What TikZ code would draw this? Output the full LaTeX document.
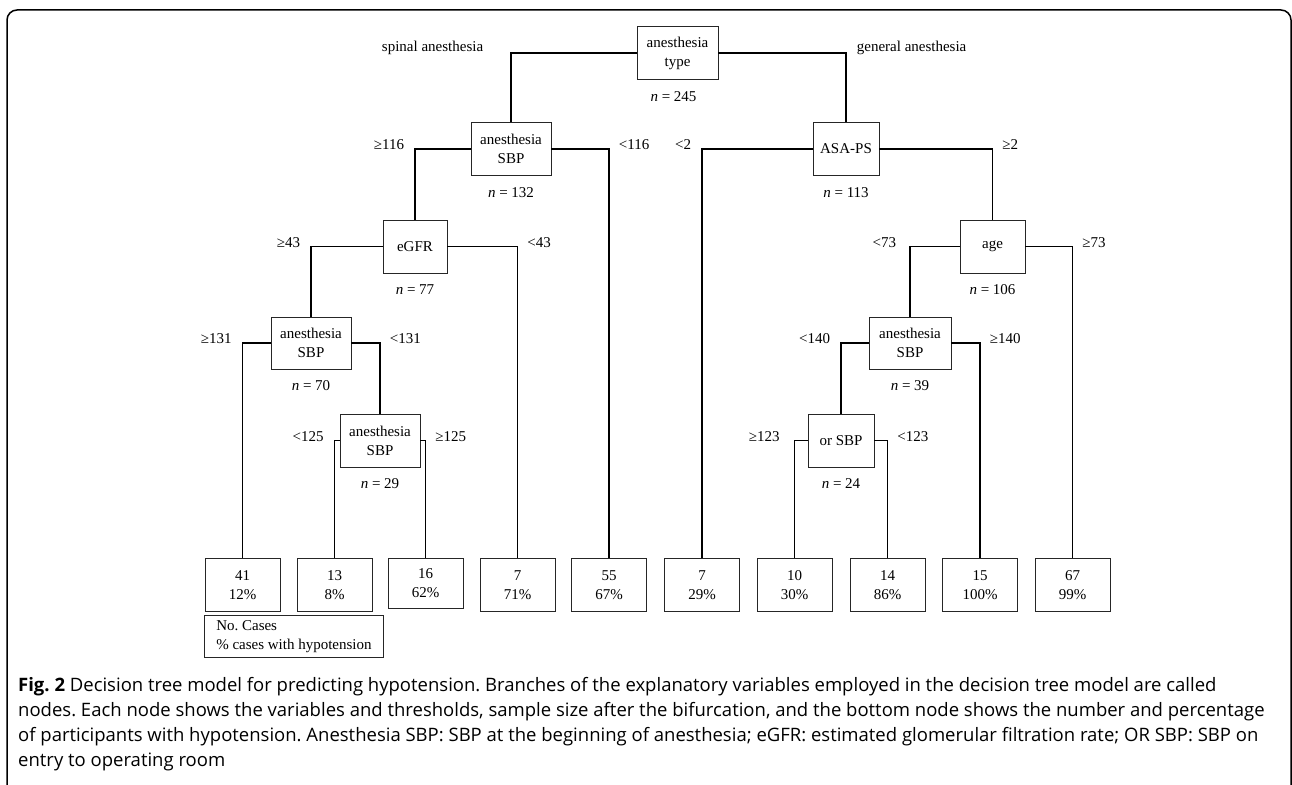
\documentclass[tikz,border=0pt]{standalone}
\usepackage{fontspec}
\setmainfont{Liberation Serif}
\newfontfamily\capfont{Open Sans}
\usetikzlibrary{positioning}
\frenchspacing
\tikzset{
  split/.style={draw=black!85, line width=0.9pt, fill=white, minimum height=53pt, inner sep=0pt, align=center},
  leaf/.style={split, anchor=north, minimum width=75pt},
  ncount/.style={below=11pt of #1, inner sep=0pt},
  lblL/.style={pos=.5, anchor=east, inner sep=0pt, xshift=-10pt, yshift=4pt},
  lblR/.style={pos=.5, anchor=west, inner sep=0pt, xshift=9pt, yshift=4pt},
  branch/.style={line width=1.7pt}
}

\begin{document}
\begin{tikzpicture}[x=1pt, y=-1pt, font=\fontsize{15}{19}\selectfont]
  \useasboundingbox (0,0) rectangle (1292,784);
  \draw[line width=1.5pt, rounded corners=10pt] (7,800) -- (7,10) -- (1291,10) -- (1291,800);

  % split nodes
  \node[split, minimum width=81pt] (root) at (677.5,53) {anesthesia\\type};
  \node[split, minimum width=80pt] (sbp1) at (511,149) {anesthesia\\SBP};
  \node[split, minimum width=66pt] (asa) at (846,149) {ASA-PS};
  \node[split, minimum width=64pt] (egfr) at (415,246.5) {eGFR};
  \node[split, minimum width=65pt] (age) at (992.5,246.5) {age};
  \node[split, minimum width=80pt, minimum height=52pt] (sbp2) at (311,343) {anesthesia\\SBP};
  \node[split, minimum width=82pt, minimum height=52pt] (sbp3) at (910,343) {anesthesia\\SBP};
  \node[split, minimum width=80pt] (sbp4) at (380,440.5) {anesthesia\\SBP};
  \node[split, minimum width=66pt] (orsbp) at (841,440.5) {or SBP};

  \node[ncount=root, xshift=-4pt] (nroot) {\textit{n}~=~245};
  \node[ncount=sbp1] (nsbp1) {\textit{n}~=~132};
  \node[ncount=asa] (nasa) {\textit{n}~=~113};
  \node[ncount=egfr] (negfr) {\textit{n}~=~77};
  \node[ncount=age] (nage) {\textit{n}~=~106};
  \node[ncount=sbp2] (nsbp2) {\textit{n}~=~70};
  \node[ncount=sbp3] (nsbp3) {\textit{n}~=~39};
  \node[ncount=sbp4] (nsbp4) {\textit{n}~=~29};
  \node[ncount=orsbp] (norsbp) {\textit{n}~=~24};

  % leaves
  \node[leaf] (l1) at (242.5,558) {41\\12\%};
  \node[leaf] (l2) at (334.5,558) {13\\8\%};
  \node[leaf, minimum height=50pt] (l3) at (425.5,558) {16\\62\%};
  \node[leaf] (l4) at (517.5,558) {7\\71\%};
  \node[leaf] (l5) at (609,558) {55\\67\%};
  \node[leaf] (l6) at (702,558) {7\\29\%};
  \node[leaf] (l7) at (794.5,558) {10\\30\%};
  \node[leaf] (l8) at (887.5,558) {14\\86\%};
  \node[leaf] (l9) at (980,558) {15\\100\%};
  \node[leaf] (l10) at (1072.5,558) {67\\99\%};
  \node[draw=black!85, line width=0.9pt, anchor=north west, minimum width=179pt, minimum height=42pt, align=left, inner sep=0pt] (key) at (204,615) {No. Cases\\\% cases with hypotension};

  % branches
  \draw[branch] (root.west) -| node[pos=.5, anchor=east, inner sep=0pt, xshift=-27pt, yshift=5pt] {spinal anesthesia} (sbp1.north);
  \draw[branch] (root.east) -| node[pos=.5, anchor=west, inner sep=0pt, xshift=10pt, yshift=5pt] {general anesthesia} (asa.north);
  \draw[branch] (sbp1.west) -| node[lblL] {≥116} (egfr.north);
  \draw[branch] (sbp1.east) -| node[lblR] {<116} (l5.north);
  \draw[branch] (asa.west) -| node[lblL] {<2} (l6.north);
  \draw[branch] (asa.east) -| node[lblR] {≥2} (age.north);
  \draw[branch] (egfr.west) -| node[lblL] {≥43} (sbp2.north);
  \draw[branch] (egfr.east) -| node[lblR] {<43} (l4.north);
  \draw[branch] (age.west) -| node[lblL, xshift=-3pt] {<73} (sbp3.north);
  \draw[branch] (age.east) -| node[lblR] {≥73} (l10.north);
  \draw[branch] (sbp2.west) -| node[lblL] {≥131} (l1.north);
  \draw[branch] (sbp2.east) -| node[lblR] {<131} (sbp4.north);
  \draw[branch] (sbp3.west) -| node[lblL] {<140} (orsbp.north);
  \draw[branch] (sbp3.east) -| node[lblR] {≥140} (l9.north);
  \draw[branch] (sbp4.west) -| node[lblL] {<125} (l2.north);
  \draw[branch] (sbp4.east) -| node[lblR] {≥125} (l3.north);
  \draw[branch] (orsbp.west) -| node[lblL, xshift=-4pt] {≥123} (l7.north);
  \draw[branch] (orsbp.east) -| node[lblR] {<123} (l8.north);

  \node[anchor=north west, align=left, inner sep=0pt, font=\capfont\fontsize{18.5}{25}\selectfont] (cap) at (18,677)
    {\textbf{Fig. 2} Decision tree model for predicting hypotension. Branches of the explanatory variables employed in the decision tree model are called\\
     nodes. Each node shows the variables and thresholds, sample size after the bifurcation, and the bottom node shows the number and percentage\\
     of participants with hypotension. Anesthesia SBP: SBP at the beginning of anesthesia; eGFR: estimated glomerular filtration rate; OR SBP: SBP on\\
     entry to operating room};
\end{tikzpicture}
\end{document}
